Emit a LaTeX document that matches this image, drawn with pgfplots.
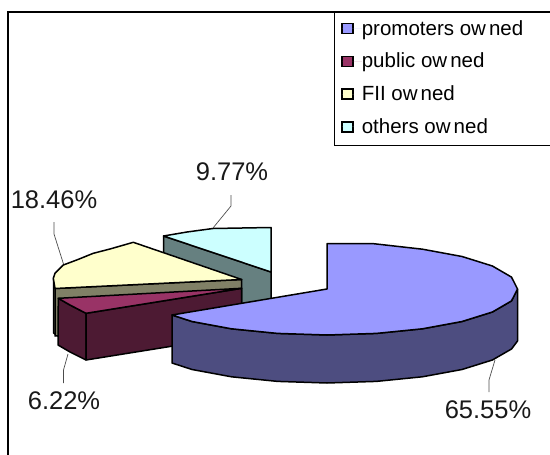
\documentclass[border=0pt]{standalone}
\usepackage{pgfplots}
\usepackage{fontspec}
\setmainfont{Liberation Sans}
\pgfplotsset{compat=1.18}
\newcommand{\ow}{ow\kern3pt ned}

\definecolor{promo}{HTML}{9999FF}
\definecolor{promoside}{HTML}{4D4D80}
\definecolor{pub}{HTML}{993366}
\definecolor{pubside}{HTML}{4D1A33}
\definecolor{fii}{HTML}{FFFFCC}
\definecolor{fiiside}{HTML}{808066}
\definecolor{oth}{HTML}{CCFFFF}
\definecolor{othside}{HTML}{668080}

\begin{document}
\begin{tikzpicture}
\path[use as bounding box, clip] (0,0) rectangle (550pt,455pt);
\begin{axis}[
	at={(0,0)}, anchor=south west,
	scale only axis,
	width=550pt, height=455pt,
	xmin=0, xmax=550, ymin=0, ymax=455,
	y dir=reverse,
	hide axis,
	clip=false,
	pie/.style={draw=black, line width=1.5pt, line join=round, forget plot},
	legend cell align=left,
	legend image code/.code={
		\draw[#1, draw=black, line width=1.3pt] (0pt,-5pt) rectangle (11pt,5pt);
		\path[draw=none] (0pt,0pt) -- (20pt,0pt);
	},
	legend style={
		at={(axis cs:341,20)}, anchor=north west,
		draw=none, fill=none,
		font=\fontsize{20.5}{24}\selectfont,
		inner sep=0pt,
		row sep=16.5pt,
		nodes={inner sep=0pt},
	},
]

% chart frame, runs off the right and bottom of the crop
\addplot[forget plot, draw=black, line width=2pt] coordinates {(7.5,460) (7.5,11.5) (560,11.5)};
% legend box
\addplot[forget plot, draw=black, line width=0.8pt] coordinates {(334,11.5) (334,145.5) (560,145.5)};

\addlegendimage{fill=promo}
\addlegendentry{promoters \ow}
\addlegendimage{fill=pub}
\addlegendentry{public \ow}
\addlegendimage{fill=fii}
\addlegendentry{FII \ow}
\addlegendimage{fill=oth}
\addlegendentry{others \ow}

% others owned
\addplot[pie, fill=othside] coordinates {(163.5,236) (271,272) (271,320) (163.5,284)} -- cycle;
\addplot[pie, fill=oth] coordinates {(271,227.5) (213,228.5) (187,232) (163.5,236) (271,272)} -- cycle;

% FII owned
\addplot[pie, fill=fiiside] coordinates {(53.5,278) (53.5,333) (58,336) (58,290)} -- cycle;
\addplot[pie, fill=fiiside] coordinates {(55,288.5) (241.7,279.5) (241.7,327) (55,336)} -- cycle;
\addplot[pie, fill=fii] coordinates {(241.7,279.5) (133.3,242.3) (110,249) (93.3,253.3) (76.7,260) (63.3,265) (55,273.3) (53.3,278.3) (55,288.5)} -- cycle;

% public owned
\addplot[pie, fill=pubside] coordinates {(58.3,298.3) (70,305) (86,313.3) (86,360) (70,352) (58,345)} -- cycle;
\addplot[pie, fill=pubside] coordinates {(86,313.3) (241.7,288.3) (241.7,335) (86,360)} -- cycle;
\addplot[pie, fill=pub] coordinates {(241.7,288.3) (58.3,298.3) (70,305) (86,313.3)} -- cycle;

% promoters owned
\addplot[pie, fill=promoside] coordinates {(517.5,289) (517.5,341) (511.5,349) (492.4,360) (462,369.5) (422.4,376.8) (376.4,381.4) (327,383) (277.6,381.4) (231.5,376.8) (192,369.5) (172,363) (172,315) (192,321.5) (231.5,328.8) (277.6,333.4) (327,335) (376.4,333.4) (422.4,328.8) (462,321.5) (492.4,312) (511.5,300.9)} -- cycle;
\addplot[pie, fill=promo] coordinates {(327,289) (327,243.5) (372,243.5) (422.5,249.2) (462,256.5) (492.4,266) (511.5,277.1) (517.5,289) (511.5,300.9) (492.4,312) (462,321.5) (422.4,328.8) (376.4,333.4) (327,335) (277.6,333.4) (231.5,328.8) (192,321.5) (172,315)} -- cycle;

% leader lines
\addplot[forget plot, draw=black!70, line width=0.7pt] coordinates {(231,195) (231,206) (213,228)};
\addplot[forget plot, draw=black!70, line width=0.7pt] coordinates {(54,222) (54,234) (63.5,264)};
\addplot[forget plot, draw=black!70, line width=0.7pt] coordinates {(63.5,383) (63.5,370) (68,354)};
\addplot[forget plot, draw=black!70, line width=0.7pt] coordinates {(489,392) (489,380) (495,360)};

% value labels
\node[font=\fontsize{25.5}{28}\selectfont, text=black!90] at (axis cs:232,172) {9.77\%};
\node[font=\fontsize{25.5}{28}\selectfont, text=black!90] at (axis cs:54,200) {18.46\%};
\node[font=\fontsize{25.5}{28}\selectfont, text=black!90] at (axis cs:64,401) {6.22\%};
\node[font=\fontsize{25.5}{28}\selectfont, text=black!90] at (axis cs:488,410) {65.55\%};
\end{axis}
\end{tikzpicture}
\end{document}
